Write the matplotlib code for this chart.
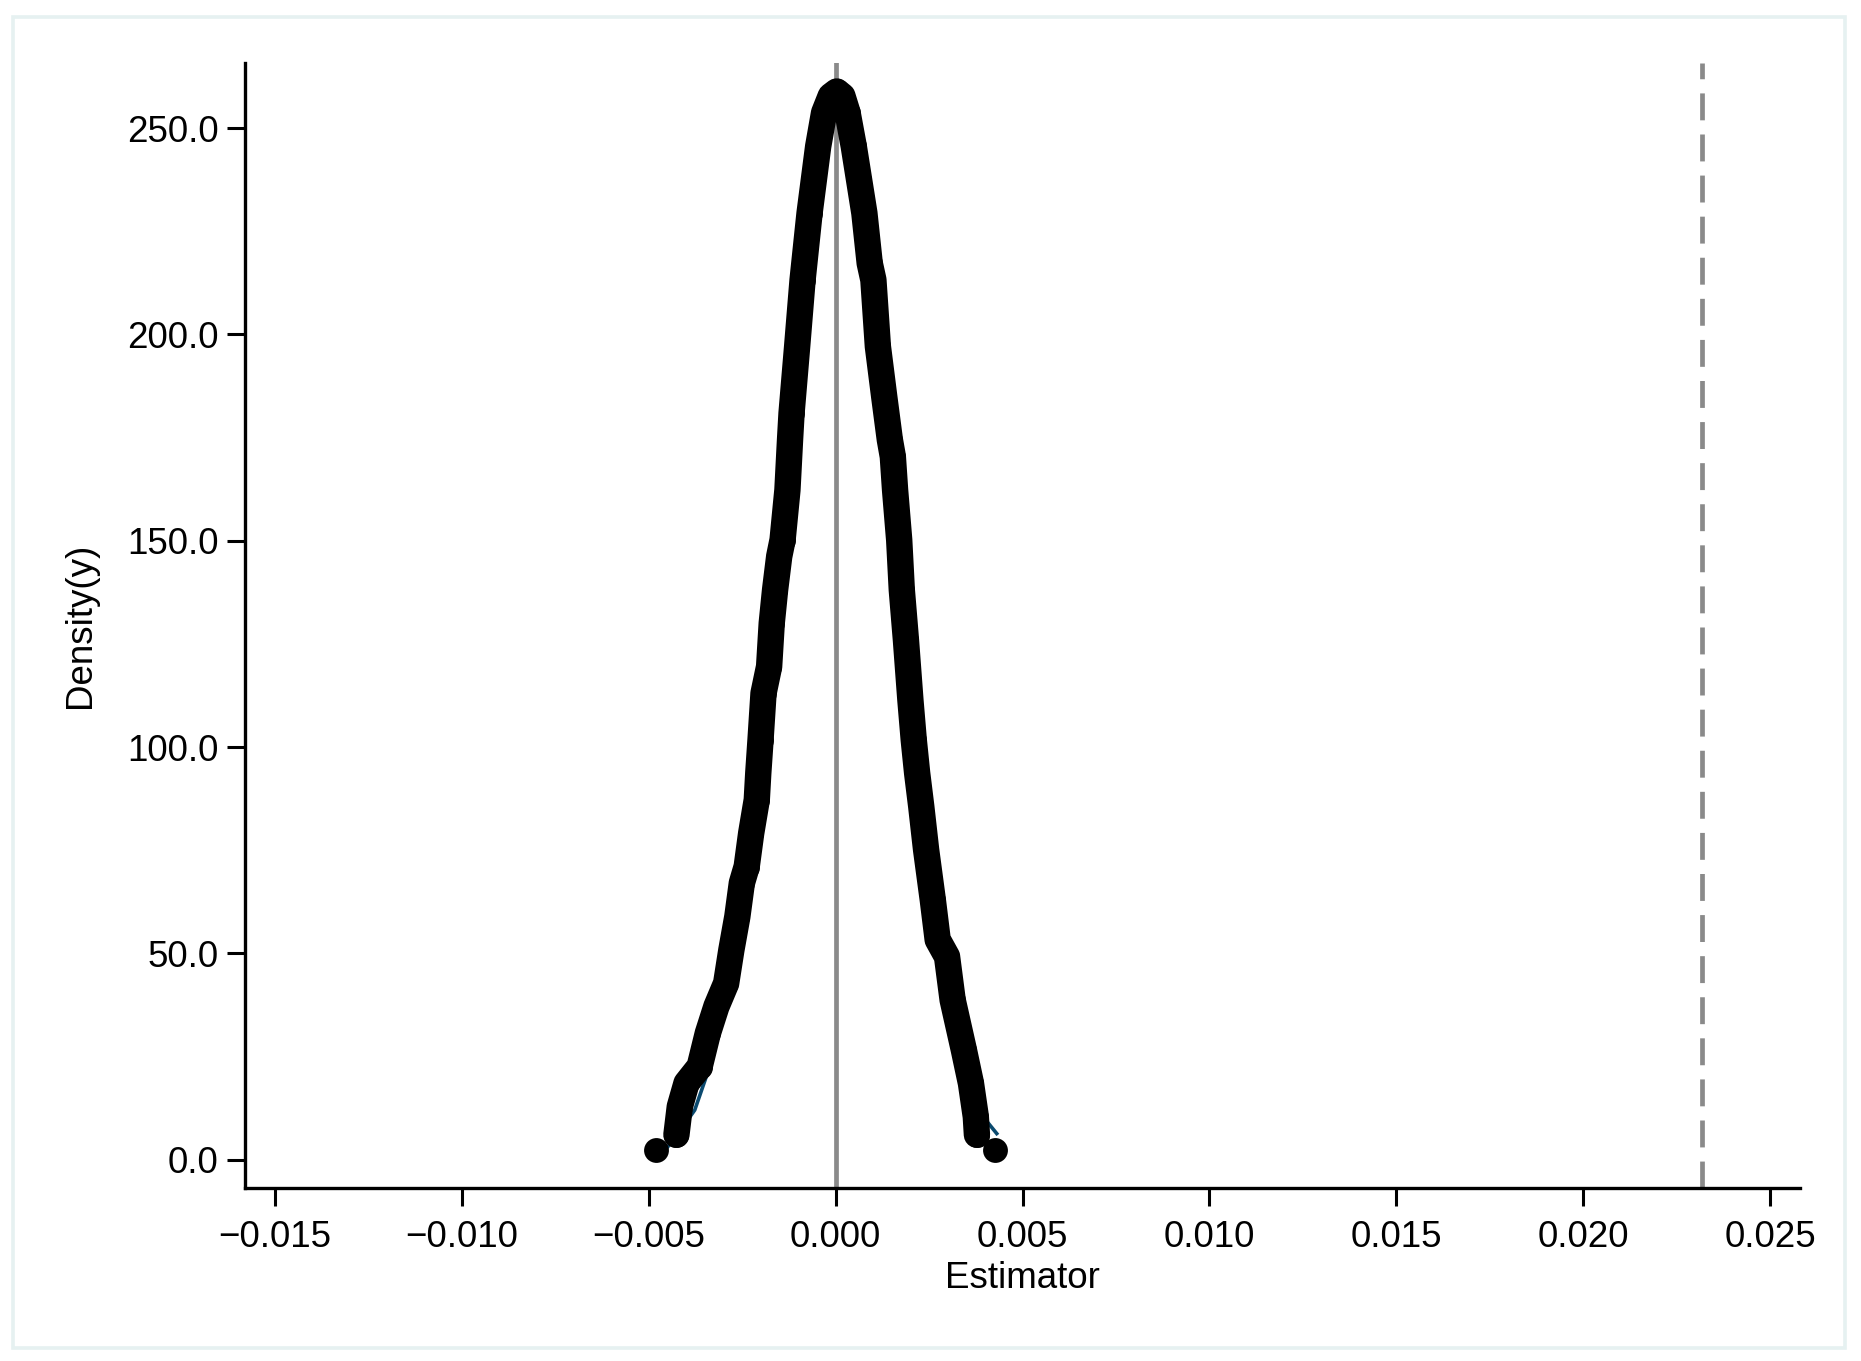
#### __import packages__ ####

import matplotlib
matplotlib.use("Agg")
import matplotlib.pyplot as plt
from matplotlib.patches import Rectangle


#### __data__ ####

# simulated estimator values (scatter of the density, left tail -> peak -> right tail)
est_x = [-0.00481, -0.00426, -0.00417, -0.00399, -0.00364, -0.00342, -0.00319,
         -0.00293, -0.00279, -0.00263, -0.00251, -0.00238, -0.00226, -0.00211,
         -0.00207, -0.00201, -0.00193, -0.00178, -0.00171, -0.00162, -0.00151,
         -0.00142, -0.00129, -0.00122, -0.00118, -0.00103, -0.000885, -0.000698,
         -0.000467, -0.00031, -0.00013, 0.00003, 0.00018, 0.00032, 0.000485,
         0.000627, 0.000769, 0.000911, 0.00101, 0.00113, 0.0013, 0.00145,
         0.00153, 0.00159, 0.0017, 0.00177, 0.00188, 0.002, 0.00209, 0.00218,
         0.00229, 0.00242, 0.0026, 0.00273, 0.00298, 0.00313, 0.00343, 0.00362,
         0.00375, 0.00378, 0.00427]
est_y = [2.3, 6.0, 12.8, 18.5, 22.5, 30.6, 37.1,
         42.7, 50.8, 58.9, 67.0, 71.0, 79.1, 87.2,
         93.7, 101.7, 113.0, 119.5, 130.0, 138.1, 146.2,
         150.2, 162.3, 174.5, 180.9, 197.1, 213.2, 229.4,
         245.6, 253.7, 257.8, 258.9, 257.8, 253.7, 245.6,
         237.5, 229.4, 217.3, 213.2, 197.1, 184.9, 174.5,
         170.4, 162.3, 150.2, 138.1, 126.0, 111.4, 101.7, 93.7,
         85.6, 75.1, 62.9, 53.3, 49.2, 38.7, 26.6, 18.5,
         10.4, 6.0, 2.3]

# kernel density line (mostly hidden under the points)
kde_x = [-0.00449, -0.0042, -0.00377, -0.00337, -0.00297, -0.0026, -0.0022,
         -0.0018, -0.0014, -0.0010, -0.0006, -0.0003, 0.0, 0.0003, 0.0006,
         0.0010, 0.0014, 0.0018, 0.0022, 0.0026, 0.0030, 0.0034, 0.0038,
         0.00405, 0.00431]
kde_y = [3.1, 6.5, 12.0, 22.5, 35.5, 58.0, 85.0,
         118.0, 152.0, 200.0, 238.0, 253.0, 258.0, 253.0, 238.0,
         212.0, 175.0, 135.0, 95.0, 63.0, 45.0, 28.0, 14.0,
         9.2, 6.3]

# reference lines
true_value = 0.0
observed_value = 0.02318

x_ticks = [-0.015, -0.010, -0.005, 0.000, 0.005, 0.010, 0.015, 0.020, 0.025]
y_ticks = [0.0, 50.0, 100.0, 150.0, 200.0, 250.0]


#### __plot function__ ####

def plot_density():
    plt.rcParams["font.family"] = ["Liberation Sans", "DejaVu Sans"]

    fig = plt.figure(figsize=(18.61, 13.61), dpi=100)
    ax = fig.add_axes([0.1317, 0.1271, 0.8355, 0.8266])

    # light outer frame like the stata graph region
    fig.patches.append(Rectangle((0.007, 0.0096), 0.9844, 0.9779,
                                 transform=fig.transFigure, fill=False,
                                 edgecolor="#e6f1f1", linewidth=2.6))

    grey = "#8a8a8a"
    ax.axvline(true_value, color=grey, linewidth=3.4, zorder=1)
    ax.axvline(observed_value, color=grey, linewidth=3.4, dashes=(5.7, 3.0), zorder=1)

    ax.plot(kde_x, kde_y, color="#0b4a6f", linewidth=2.6, zorder=2)

    # points overlap so much they look like a thick line
    ax.plot(est_x[1:-1], est_y[1:-1], color="black", linewidth=19,
            solid_joinstyle="round", solid_capstyle="round", zorder=3)
    ax.scatter(est_x, est_y, s=320, color="black", linewidths=0, zorder=4)

    ax.set_xlim(-0.0158, 0.0258)
    ax.set_ylim(-6.9, 265.8)
    ax.set_xticks(x_ticks)
    ax.set_xticklabels([f"{v:.3f}".replace("-", "\u2212") for v in x_ticks])
    ax.set_yticks(y_ticks)
    ax.set_yticklabels([f"{v:.1f}" for v in y_ticks])

    for side in ["top", "right"]:
        ax.spines[side].set_visible(False)
    for side in ["left", "bottom"]:
        ax.spines[side].set_linewidth(2.4)
    ax.tick_params(axis="both", length=13, width=2.2, labelsize=26.5,
                   direction="out")
    ax.tick_params(axis="x", pad=10)
    ax.tick_params(axis="y", pad=6)

    ax.set_xlabel("Estimator", fontsize=26.5)
    ax.set_ylabel("Density(y)", fontsize=26.5)
    ax.xaxis.set_label_coords(0.5, -0.0645)
    ax.yaxis.set_label_coords(-0.0945, 0.5)

    fig.savefig("out.png", dpi=100, facecolor="white")


def main():
    plot_density()


if __name__ == "__main__":
    main()
